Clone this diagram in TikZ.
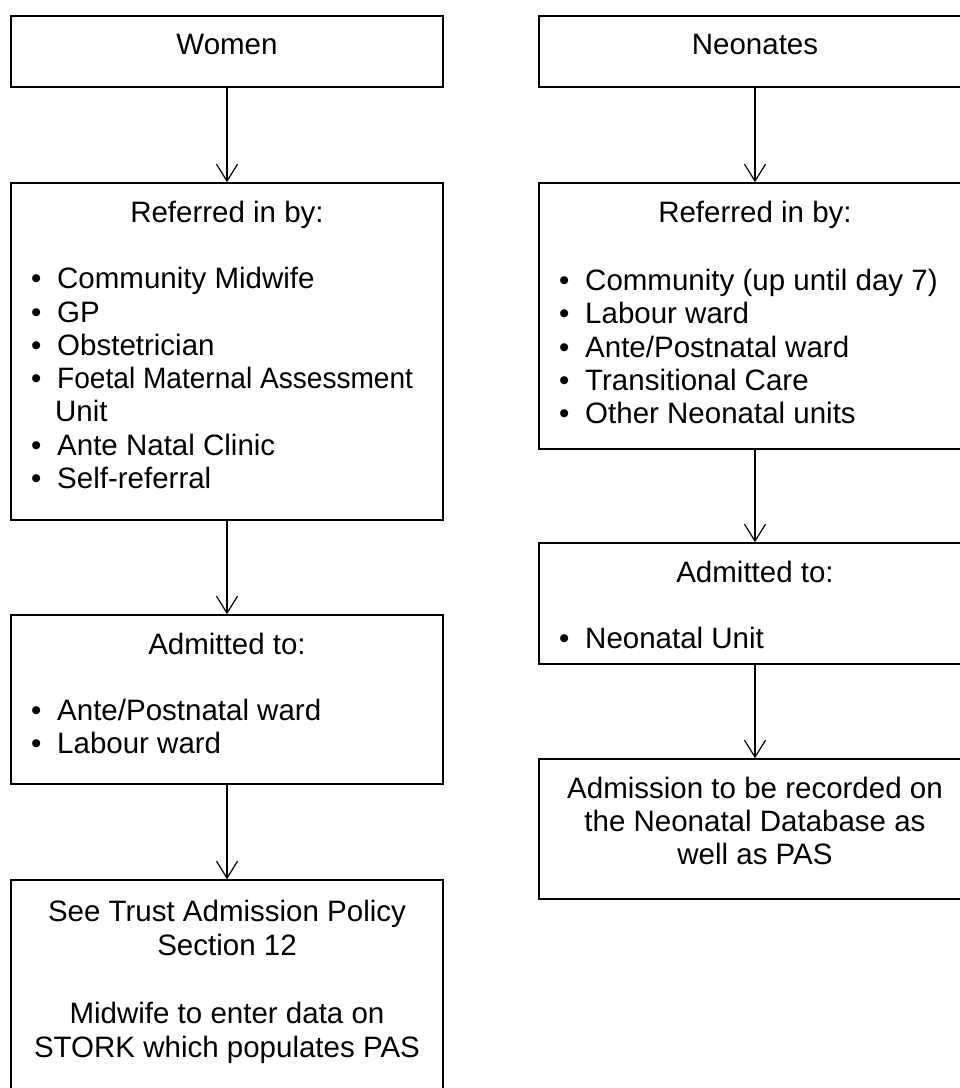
\documentclass[tikz,border=0pt]{standalone}
\usepackage{fontspec}
\setmainfont{Liberation Sans}
\usetikzlibrary{arrows.meta}
\tikzset{
  box/.style={draw=black, line width=1.4pt, rectangle, inner sep=0pt,
              minimum width=432pt},
  lbl/.style={inner sep=0pt, font=\fontsize{29.5pt}{34pt}\selectfont, anchor=base},
  itemtxt/.style={lbl, anchor=base west},
  flow/.style={draw=black, line width=1.2pt,
               -{Straight Barb[length=17pt,width=21pt,line width=1.2pt]}}
}
\begin{document}
\begin{tikzpicture}[x=1pt,y=-1pt]
\useasboundingbox (0,0) rectangle (960,1088);

% left column: women
\node[box, minimum height=71pt]  (women) at (227,51.5) {};
\node[box, minimum height=337pt] (wref)  at (227,351.5) {};
\node[box, minimum height=169pt] (wadm)  at (227,699.5) {};
\node[box, minimum height=220pt] (wpol)  at (227,990) {};

% right column: neonates
\node[box, minimum height=71pt]  (neo)  at (755,51.5) {};
\node[box, minimum height=266pt] (nref) at (755,316) {};
\node[box, minimum height=121pt] (nadm) at (755,603.5) {};
\node[box, minimum height=140pt] (ndb)  at (755,829) {};

% connectors
\draw[flow] (women.south) -- (wref.north);
\draw[flow] (wref.south)  -- (wadm.north);
\draw[flow] (wadm.south)  -- (wpol.north);
\draw[flow] (neo.south)   -- (nref.north);
\draw[flow] (nref.south)  -- (nadm.north);
\draw[flow] (nadm.south)  -- (ndb.north);

% texts, women
\node[lbl] (tw) at (227,54) {Women};
\node[lbl] (twref) at (227,222) {Referred in by:};
\foreach \t/\y [count=\i] in {Community Midwife/288, GP/322, Obstetrician/355,
    {\scalebox{0.952}[1]{Foetal Maternal Assessment}}/388,
    Ante Natal Clinic/455, Self-referral/488}{
  \node[itemtxt] (wb\i) at (31,\y) {•};
  \node[itemtxt] (wi\i) at (57,\y) {\t};
}
\node[itemtxt] (wunit) at (55,421) {Unit};
\node[lbl] (twadm) at (227,654) {Admitted to:};
\foreach \t/\y [count=\i] in {{Ante/Postnatal ward}/720, {Labour ward}/753}{
  \node[itemtxt] (wab\i) at (31,\y) {•};
  \node[itemtxt] (wai\i) at (57,\y) {\t};
}
\node[lbl] (tpol1) at (227,921) {See Trust Admission Policy};
\node[lbl] (tpol2) at (227,955) {Section 12};
\node[lbl] (tpol3) at (227,1023) {Midwife to enter data on};
\node[lbl] (tpol4) at (227,1057) {STORK which populates PAS};

% texts, neonates
\node[lbl] (tn) at (755,54) {Neonates};
\node[lbl] (tnref) at (755,222) {Referred in by:};
\foreach \t/\y [count=\i] in {{Community (up until day 7)}/290, {Labour ward}/323,
    {Ante/Postnatal ward}/357, {Transitional Care}/390, {Other Neonatal units}/423}{
  \node[itemtxt] (nb\i) at (559,\y) {•};
  \node[itemtxt] (ni\i) at (585,\y) {\t};
}
\node[lbl] (tnadm) at (755,582) {Admitted to:};
\node[itemtxt] (nab1) at (559,648) {•};
\node[itemtxt] (nai1) at (585,648) {Neonatal Unit};
\node[lbl] (tdb1) at (755,798) {Admission to be recorded on};
\node[lbl] (tdb2) at (755,831) {the Neonatal Database as};
\node[lbl] (tdb3) at (755,864) {well as PAS};
\end{tikzpicture}
\end{document}
